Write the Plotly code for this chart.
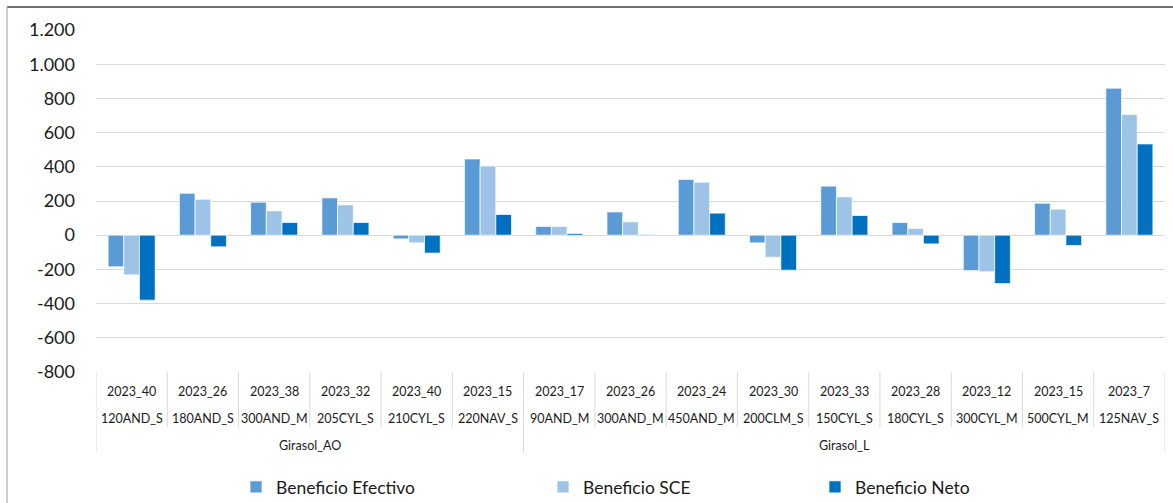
import plotly.graph_objects as go

years = ["2023_40", "2023_26", "2023_38", "2023_32", "2023_40", "2023_15", "2023_17", "2023_26",
         "2023_24", "2023_30", "2023_33", "2023_28", "2023_12", "2023_15", "2023_7"]
codes = ["120AND_S", "180AND_S", "300AND_M", "205CYL_S", "210CYL_S", "220NAV_S", "90AND_M", "300AND_M",
         "450AND_M", "200CLM_S", "150CYL_S", "180CYL_S", "300CYL_M", "500CYL_M", "125NAV_S"]
groups = ["Girasol_AO"] * 6 + ["Girasol_L"] * 9

beneficio_efectivo = [-185, 245, 193, 218, -22, 446, 51, 136, 326, -45, 287, 74, -207, 187, 860]
beneficio_sce = [-232, 210, 142, 177, -45, 405, 51, 78, 310, -129, 224, 39, -214, 152, 706]
beneficio_neto = [-380, -68, 74, 74, -105, 121, 10, 4, 129, -205, 115, -51, -283, -60, 534]

ytick_vals = [-800, -600, -400, -200, 0, 200, 400, 600, 800, 1000, 1200]
ytick_text = ["-800", "-600", "-400", "-200", "0", "200", "400", "600", "800", "1.000", "1.200"]

keys = [f"{y} {c}" for y, c in zip(years, codes)]

FONT = "Lato, 'Open Sans', sans-serif"
W, H = 1173, 503
ML, MR, MT, MB = 96, 8, 30, 131
PH = H - MT - MB

fig = go.Figure()
series = [
    ("Beneficio Efectivo", beneficio_efectivo, "#5B9BD5", "legend"),
    ("Beneficio SCE", beneficio_sce, "#9DC3E6", "legend2"),
    ("Beneficio Neto", beneficio_neto, "#0070C0", "legend3"),
]
for name, vals, col, lg in series:
    fig.add_trace(go.Bar(x=keys, y=vals, name=name, marker=dict(color=col, line=dict(color="white", width=0.7)),
                         legend=lg, showlegend=True))

def py(px_below):
    return -px_below / PH

LBL = dict(size=12.5, color="#1a1a1a", family=FONT)
annotations = []
for i, (y, c) in enumerate(zip(years, codes)):
    annotations.append(dict(x=keys[i], y=py(20), xref="x", yref="paper", text=y, showarrow=False,
                            font=LBL, yanchor="middle"))
    annotations.append(dict(x=keys[i], y=py(47), xref="x", yref="paper", text=c, showarrow=False,
                            font=LBL, yanchor="middle"))

uniq = []
for g in groups:
    if g not in uniq:
        uniq.append(g)
shapes = []
for g in uniq:
    idx = [i for i, gg in enumerate(groups) if gg == g]
    center = (idx[0] + idx[-1]) / 2
    annotations.append(dict(x=center, y=py(73.5), xref="x", yref="paper", text=g, showarrow=False,
                            font=LBL, yanchor="middle"))

n = len(keys)
for b in range(n + 1):
    pos = b - 0.5
    is_group = b == 0 or b == n or groups[b - 1] != groups[b]
    depth = 81 if is_group else 55
    shapes.append(dict(type="line", xref="x", yref="paper", x0=pos, x1=pos, y0=0, y1=py(depth),
                       line=dict(color="#d9d9d9", width=1)))

x_left = (7 - ML) / (W - ML - MR)
x_right = (W + 5 - ML) / (W - ML - MR)
y_top = 1 + (MT - 7) / PH
y_bot = -(MB + 5) / PH
shapes.append(dict(type="line", xref="paper", yref="paper", x0=x_left, x1=x_right, y0=y_top, y1=y_top,
                   line=dict(color="#404040", width=1.5)))
shapes.append(dict(type="line", xref="paper", yref="paper", x0=x_left, x1=x_left, y0=y_top, y1=y_bot,
                   line=dict(color="#bfbfbf", width=1.5)))

leg_common = dict(orientation="h", yref="container", xref="container", y=(H - 487) / H, yanchor="middle",
                  font=dict(size=17.5, color="#1a1a1a", family=FONT), bgcolor="rgba(0,0,0,0)",
                  itemclick=False, itemdoubleclick=False)
fig.update_layout(
    width=W, height=H,
    showlegend=True,
    margin=dict(l=ML, r=MR, t=MT, b=MB),
    paper_bgcolor="white", plot_bgcolor="white",
    bargap=0.34, bargroupgap=0,
    font=dict(family=FONT),
    xaxis=dict(type="category", showticklabels=False, showgrid=False, zeroline=False, showline=False,
               ticks="", range=[-0.5, n - 0.5]),
    yaxis=dict(range=[-800.5, 1200.5], tickvals=ytick_vals, ticktext=ytick_text, showgrid=True,
               gridcolor="#d9d9d9", gridwidth=1, zeroline=True, zerolinecolor="#d9d9d9", zerolinewidth=1,
               showline=False, ticks="", ticklabelstandoff=20,
               tickfont=dict(size=18, color="#1a1a1a", family=FONT)),
    legend=dict(x=236 / W, **leg_common),
    legend2=dict(x=543 / W, **leg_common),
    legend3=dict(x=815 / W, **leg_common),
    annotations=annotations,
    shapes=shapes,
)

fig.write_html("out.html", config={"displayModeBar": False},
               post_script="document.body.style.margin='0';document.body.style.overflow='hidden';")
